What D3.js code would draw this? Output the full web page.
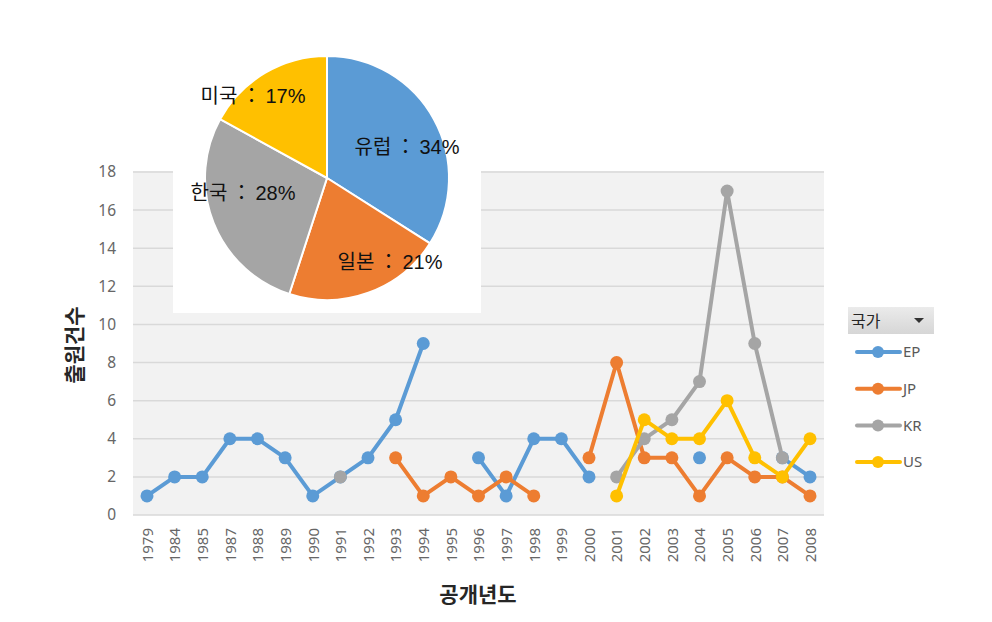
<!DOCTYPE html>
<html><head><meta charset="utf-8">
<script src="https://cdn.jsdelivr.net/npm/d3@7"></script>
<style>
body{margin:0;background:#fff;}
text{font-family:"Noto Sans CJK KR","Noto Sans",sans-serif;}
</style></head>
<body><svg id="c" width="992" height="622"></svg>
<script>
const years = ["1979","1984","1985","1987","1988","1989","1990","1991","1992","1993","1994","1995","1996","1997","1998","1999","2000","2001","2002","2003","2004","2005","2006","2007","2008"];
const seriesNames = ["EP","JP","KR","US"];
const EP = [1,2,2,4,4,3,1,2,3,5,9,null,3,1,4,4,2,null,null,null,3,null,null,3,2];
const JP = [null,null,null,null,null,null,null,null,null,3,1,2,1,2,1,null,3,8,3,3,1,3,2,2,1];
const KR = [null,null,null,null,null,null,null,2,null,null,null,null,null,null,null,null,null,2,4,5,7,17,9,3,null];
const US = [null,null,null,null,null,null,null,null,null,null,null,null,null,null,null,null,null,1,5,4,4,6,3,2,4];
const colors = ["#5b9bd5","#ed7d31","#a5a5a5","#ffc000"];
const yTicks = [0,2,4,6,8,10,12,14,16,18];
const pieLabels = ["유럽","일본","한국","미국"];
const piePercents = [34,21,28,17];
const xTitle = "공개년도", yTitle = "출원건수", legendTitle = "국가";

const svg = d3.select("#c");
const x = d3.scalePoint().domain(years).range([147,810]);
const y = d3.scaleLinear().domain([0,18]).range([515,172]);
const numFont = "'Noto Sans','DejaVu Sans',sans-serif";

// plot background
svg.append("rect").attr("x",133).attr("y",y(18)-1).attr("width",691).attr("height",y(0)-y(18)+1).attr("fill","#f2f2f2");
// gridlines
svg.append("g").selectAll("line").data(yTicks).join("line")
  .attr("x1",133).attr("x2",824).attr("y1",d=>y(d)).attr("y2",d=>y(d))
  .attr("stroke","#d9d9d9").attr("stroke-width",1.5);

// y axis labels
const yAxis = d3.axisLeft(y).tickValues(yTicks).tickSize(0).tickPadding(0);
const gy = svg.append("g").attr("transform","translate(116,0)").call(yAxis);
gy.select(".domain").remove();
gy.selectAll("text").attr("fill","#666").style("font-size","15.5px").style("font-family",numFont);

// x axis labels
const xAxis = d3.axisBottom(x).tickSize(0).tickPadding(0);
const gx = svg.append("g").attr("transform","translate(0,527)").call(xAxis);
gx.select(".domain").remove();
gx.selectAll("text").attr("fill","#666").style("font-size","15px").style("font-family",numFont)
  .attr("transform","rotate(-90)").attr("text-anchor","end").attr("dy","0.35em").attr("x",-1).attr("y",0);

// titles
svg.append("text").attr("x",478).attr("y",602).attr("text-anchor","middle").style("font-size","21px").style("font-weight","bold").attr("fill","#262626").text(xTitle);
svg.append("text").attr("transform","translate(82,345) rotate(-90)").attr("text-anchor","middle").style("font-size","21px").style("font-weight","bold").attr("fill","#262626").text(yTitle);

// series
const all = [EP,JP,KR,US];
const line = d3.line().defined(d=>d.v!=null).x(d=>x(d.yr)).y(d=>y(d.v));
all.forEach((arr,i)=>{
  const pts = arr.map((v,j)=>({yr:years[j],v}));
  const g = svg.append("g");
  g.append("path").datum(pts).attr("d",line).attr("fill","none").attr("stroke",colors[i]).attr("stroke-width",4).attr("stroke-linejoin","round").attr("stroke-linecap","round");
  g.selectAll("circle").data(pts.filter(d=>d.v!=null)).join("circle")
    .attr("cx",d=>x(d.yr)).attr("cy",d=>y(d.v)).attr("r",6.5).attr("fill",colors[i]);
});

// pie with white box
svg.append("rect").attr("x",173).attr("y",40).attr("width",308).attr("height",273).attr("fill","#fff");
const pie = d3.pie().sort(null).value(d=>d)(piePercents);
const arc = d3.arc().innerRadius(0).outerRadius(122);
const pg = svg.append("g").attr("transform","translate(327,178)");
pg.selectAll("path").data(pie).join("path").attr("d",arc).attr("fill",(d,i)=>colors[i]).attr("stroke","#fff").attr("stroke-width",2);
const labelPos = [[407,147],[390,262],[243,193],[253,96]];
const lt = svg.append("g").selectAll("text").data(pie).join("text")
  .attr("x",(d,i)=>labelPos[i][0]).attr("y",(d,i)=>labelPos[i][1]).attr("text-anchor","middle").attr("dy","0.35em")
  .style("font-size","20px").attr("fill","#111");
lt.append("tspan").text((d,i)=>pieLabels[i]);
lt.append("tspan").attr("dx",4).text("：");
lt.append("tspan").attr("dx",4).style("font-family","'Liberation Sans',Arial,sans-serif").text((d,i)=>piePercents[i]+"%");

// legend
const defs = svg.append("defs");
const grad = defs.append("linearGradient").attr("id","lg").attr("x1",0).attr("y1",0).attr("x2",0).attr("y2",1);
grad.append("stop").attr("offset","0").attr("stop-color","#ebebeb");
grad.append("stop").attr("offset","1").attr("stop-color","#d6d6d6");
svg.append("rect").attr("x",848).attr("y",307).attr("width",86).attr("height",27).attr("fill","url(#lg)");
svg.append("text").attr("x",851).attr("y",321).attr("dy","0.35em").style("font-size","16px").attr("fill","#262626").text(legendTitle);
svg.append("path").attr("d","M914,318 L924,318 L919,323 Z").attr("fill","#333");
const lg = svg.append("g").selectAll("g").data(seriesNames).join("g")
  .attr("transform",(d,i)=>`translate(0,${352+i*36.7})`);
lg.append("line").attr("x1",857).attr("x2",900).attr("stroke",(d,i)=>colors[i]).attr("stroke-width",4).attr("stroke-linecap","round");
lg.append("circle").attr("cx",878).attr("r",6).attr("fill",(d,i)=>colors[i]);
lg.append("text").attr("x",903).attr("dy","0.35em").style("font-size","15px").attr("fill","#595959").style("font-family",numFont).text(d=>d);
</script></body></html>
